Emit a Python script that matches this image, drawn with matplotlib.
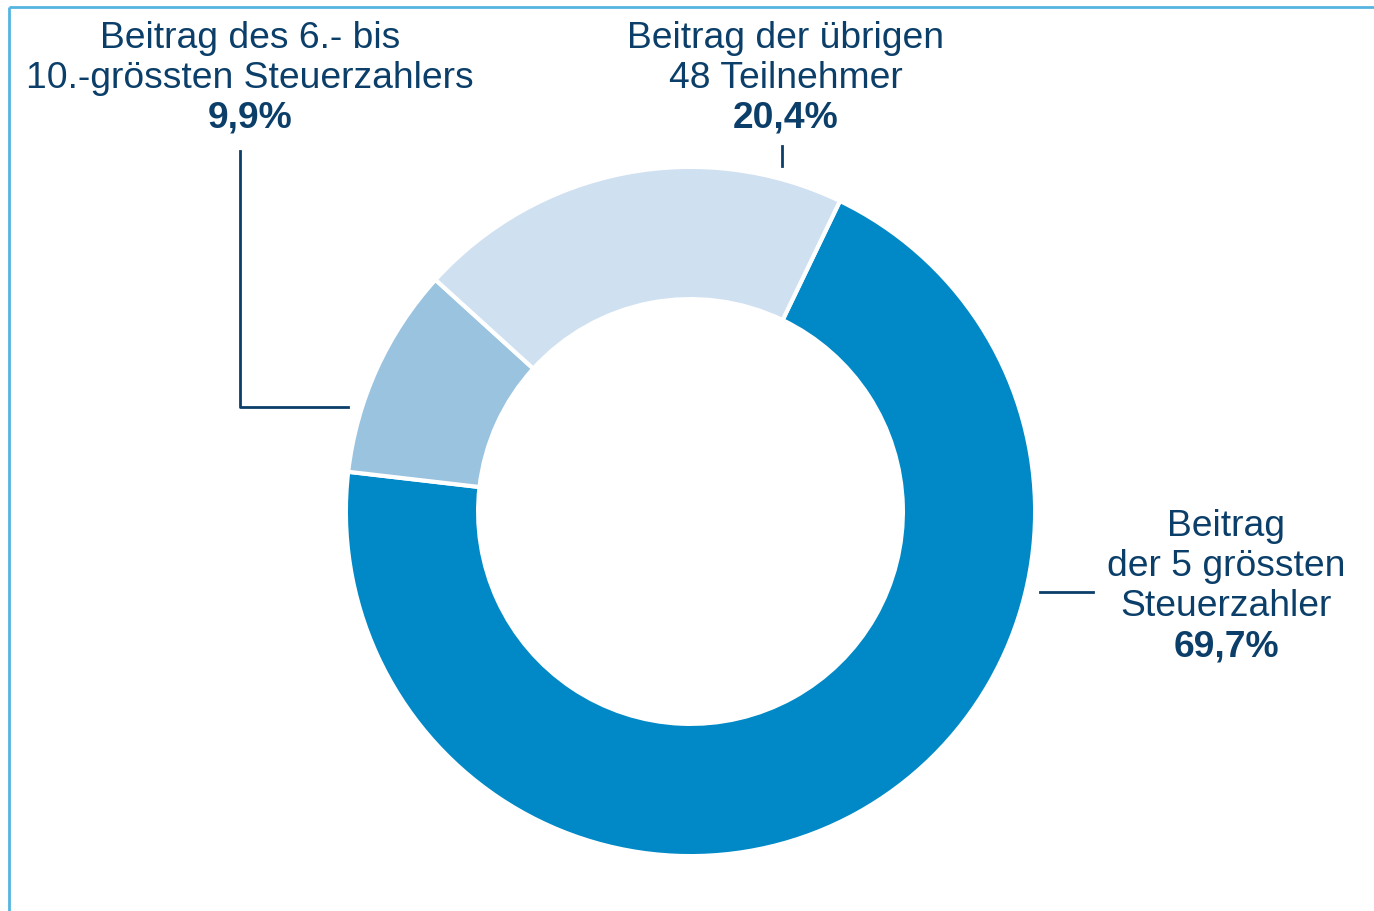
import matplotlib.pyplot as plt

# Data
anteile = [69.7, 9.9, 20.4]
farben = ["#0089c6", "#9ac3e0", "#cfe0f1"]
beschriftungen = [
    ["Beitrag", "der 5 grössten", "Steuerzahler"],
    ["Beitrag des 6.- bis", "10.-grössten Steuerzahlers"],
    ["Beitrag der übrigen", "48 Teilnehmer"],
]
werte_text = ["69,7%", "9,9%", "20,4%"]

W, H = 1374, 912
navy = "#0b3f69"
rand = "#55b4e0"

plt.rcParams["font.family"] = ["Liberation Sans", "DejaVu Sans"]

fig = plt.figure(figsize=(W / 100, H / 100), dpi=100)
ax = fig.add_axes([0, 0, 1, 1])


def py(y):
    # pixel row -> data y
    return H - y


## Donut
R_aussen, R_innen = 344.6, 212.4
ax.pie(anteile, colors=farben, startangle=64.3, counterclock=False,
       radius=R_aussen, center=(690.5, py(512.5)), frame=True,
       wedgeprops=dict(width=R_aussen - R_innen, edgecolor="white", linewidth=3))
ax.set_xlim(0, W)
ax.set_ylim(0, H)
ax.axis("off")

## Border
ax.plot([9, W], [py(8), py(8)], color=rand, lw=2, solid_capstyle="butt")
ax.plot([9, 9], [py(8), 0], color=rand, lw=2, solid_capstyle="butt")

## Labels
fs = 26.8
positions = [(1226, 527), (250, 38), (786, 38)]
for lines, wert, (x, y0) in zip(beschriftungen, werte_text, positions):
    for i, line in enumerate(lines):
        ax.text(x, py(y0 + 40 * i), line, ha="center", va="center",
                fontsize=fs, color=navy)
    ax.text(x, py(y0 + 40 * len(lines)), wert, ha="center", va="center",
            fontsize=fs, color=navy, fontweight="bold")

## Leader lines
ax.plot([240, 240, 348], [py(152), py(408), py(408)], color=navy, lw=2)
ax.plot([782, 782], [py(147), py(167)], color=navy, lw=2)
ax.plot([1040, 1093], [py(593), py(593)], color=navy, lw=2)

fig.savefig("out.png", dpi=100)
